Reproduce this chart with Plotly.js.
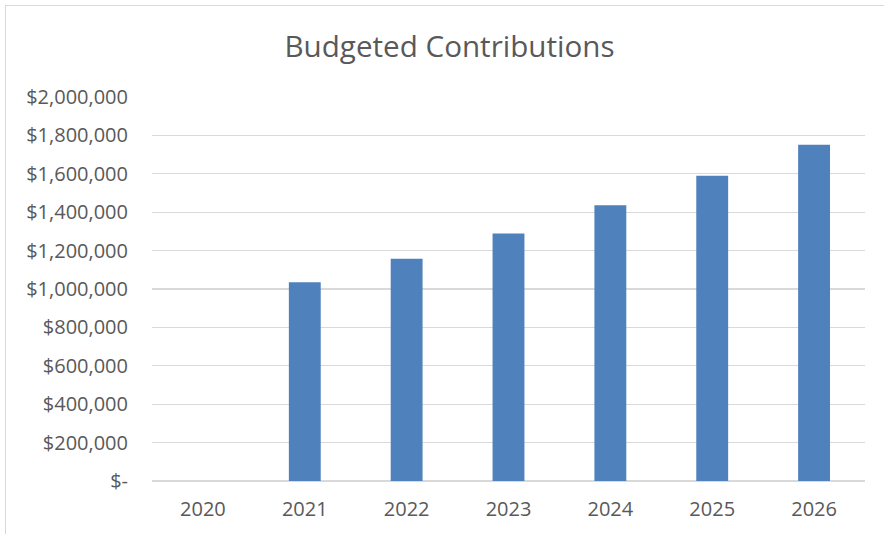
<!DOCTYPE html>
<html>
<head>
<meta charset="utf-8">
<script src="https://cdn.plot.ly/plotly-3.0.1.min.js"></script>
<style>
html,body{margin:0;padding:0;overflow:hidden;background:#fff;}
#frame{position:absolute;left:5px;top:5px;width:1000px;height:1000px;border:1px solid #d9d9d9;box-sizing:border-box;pointer-events:none;}
#chart{position:absolute;left:0;top:0;width:884px;height:534px;}
</style>
</head>
<body>
<div id="chart"></div>
<div id="frame"></div>
<script>
const years = ['2020','2021','2022','2023','2024','2025','2026'];
const contributions = [0, 1035000, 1158000, 1289000, 1436000, 1590000, 1751000];
const yTickVals = [0, 200000, 400000, 600000, 800000, 1000000, 1200000, 1400000, 1600000, 1800000, 2000000];
const yTickText = ['$-', '$200,000', '$400,000', '$600,000', '$800,000', '$1,000,000', '$1,200,000', '$1,400,000', '$1,600,000', '$1,800,000', '$2,000,000'];

const textColor = '#595959';
const fontFam = 'Open Sans, Noto Sans, sans-serif';

Plotly.newPlot('chart', [{
  type: 'bar',
  x: years,
  y: contributions,
  marker: {color: '#4F81BD', line: {width: 0}},
  hoverinfo: 'x+y'
}], {
  width: 884, height: 534,
  margin: {l: 152, r: 19, t: 96.7, b: 53.3, pad: 0},
  paper_bgcolor: '#ffffff',
  plot_bgcolor: '#ffffff',
  bargap: 0.687,
  showlegend: false,
  title: {
    text: 'Budgeted Contributions',
    font: {family: fontFam, size: 29.6, color: textColor},
    xref: 'container', x: 0.5085, xanchor: 'center',
    yref: 'container', y: 0.912, yanchor: 'middle'
  },
  xaxis: {
    type: 'category',
    showgrid: false,
    zeroline: false,
    showline: false,
    ticks: '',
    ticklabelstandoff: 14,
    tickfont: {family: fontFam, size: 20, color: textColor}
  },
  yaxis: {
    range: [0, 2000000],
    tickvals: yTickVals,
    ticktext: yTickText,
    showgrid: true,
    gridcolor: '#d9d9d9',
    gridwidth: 1.3,
    zeroline: true,
    zerolinecolor: '#d9d9d9',
    zerolinewidth: 1.3,
    showline: false,
    ticks: '',
    ticklabelstandoff: 23,
    tickfont: {family: fontFam, size: 20, color: textColor}
  }
}, {displayModeBar: false, staticPlot: true});
</script>
</body>
</html>
